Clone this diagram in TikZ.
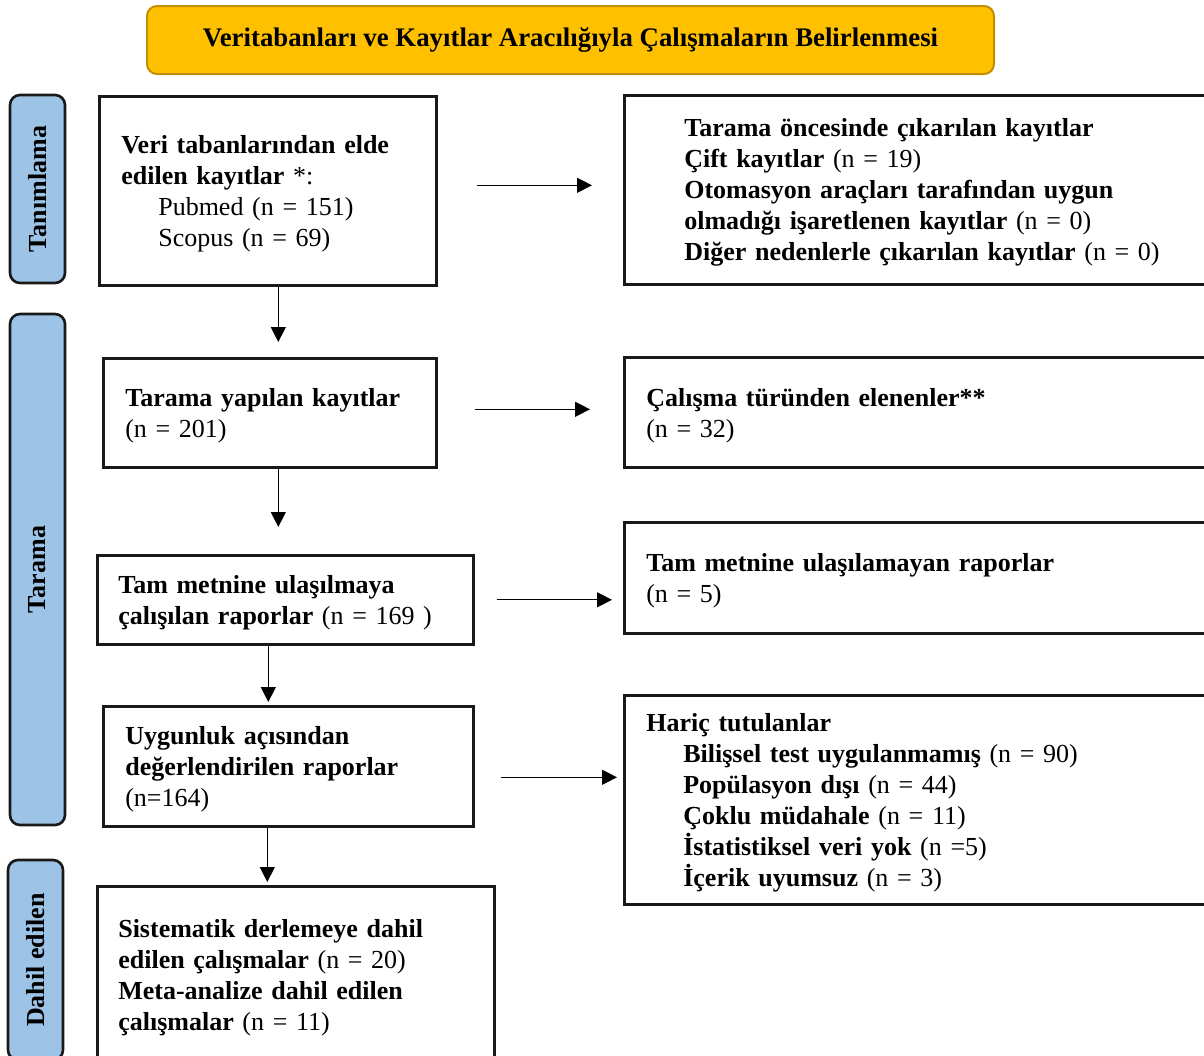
\documentclass[tikz,border=0pt]{standalone}
\usepackage{fontspec}
\setmainfont{Liberation Serif}
\usetikzlibrary{arrows.meta}
\definecolor{gold}{HTML}{FFC000}
\definecolor{golddark}{HTML}{C09000}
\definecolor{sideblue}{HTML}{9DC3E6}
\tikzset{
  txt/.style={font=\fontsize{26}{31}\selectfont},
  flowbox/.style={txt, draw=black!90, line width=2.6pt, anchor=north west, align=left, inner ysep=0pt,
                  execute at begin node={\rule{0pt}{24pt}}},
  sidebar/.style={txt, draw=black!90, line width=2.6pt, rounded corners=10pt, fill=sideblue, rotate=90, inner sep=0pt},
  arr/.style={line width=1.3pt, -{Triangle[length=15pt,width=15pt]}},
}
\newcommand{\myind}{\hspace*{37pt}}
\begin{document}
\begin{tikzpicture}[x=1pt,y=-1pt]
\useasboundingbox (0,0) rectangle (1204,1055);
\clip (0,0) rectangle (1204,1055);

% title
\node[font=\fontsize{26.8}{31}\selectfont\bfseries, minimum width=847pt, minimum height=68pt,
      rounded corners=10pt, fill=gold, draw=golddark, line width=2pt] (title) at (570.5,40)
  {Veritabanları ve Kayıtlar Aracılığıyla Çalışmaların Belirlenmesi};

% side bars
\node[sidebar, minimum width=188pt, minimum height=55pt] (s1) at (37.5,189) {\textbf{Tanımlama}};
\node[sidebar, minimum width=511pt, minimum height=55pt] (s2) at (37.5,569.5) {\textbf{Tarama}};
\node[sidebar, minimum width=200pt, minimum height=55pt] (s3) at (35.5,960) {\textbf{Dahil edilen}};

% left boxes
\node[flowbox, inner xsep=22pt, text width=293pt, minimum height=189pt] (b1) at (98,95)
  {\textbf{Veri tabanlarından elde}\\ \textbf{edilen kayıtlar} *:\\ \myind Pubmed (n = 151)\\ \myind Scopus (n = 69)};
\node[flowbox, inner xsep=22pt, text width=289pt, minimum height=109pt] (b2) at (102,357)
  {\textbf{Tarama yapılan kayıtlar}\\ (n = 201)};
\node[flowbox, inner xsep=21pt, text width=334pt, minimum height=89pt] (b3) at (96,554)
  {\textbf{Tam metnine ulaşılmaya}\\ \textbf{çalışılan raporlar} (n = 169 )};
\node[flowbox, inner xsep=22pt, text width=326pt, minimum height=120pt] (b4) at (102,705)
  {\textbf{Uygunluk açısından}\\ \textbf{değerlendirilen raporlar}\\ (n=164)};
\node[flowbox, inner xsep=21pt, text width=355pt, minimum height=177pt] (b5) at (96,885)
  {\textbf{Sistematik derlemeye dahil}\\ \textbf{edilen çalışmalar} (n = 20)\\ \textbf{Meta-analize dahil edilen}\\ \textbf{çalışmalar} (n = 11)};

% right boxes
\node[flowbox, inner xsep=60pt, text width=517pt, minimum height=189pt] (r1) at (623,94)
  {\textbf{Tarama öncesinde çıkarılan kayıtlar}\\ \textbf{Çift kayıtlar} (n = 19)\\ \textbf{Otomasyon araçları tarafından uygun}\\ \textbf{olmadığı işaretlenen kayıtlar} (n = 0)\\ \textbf{Diğer nedenlerle çıkarılan kayıtlar} (n = 0)};
\node[flowbox, inner xsep=22pt, text width=593pt, minimum height=110pt] (r2) at (623,356)
  {\textbf{Çalışma türünden elenenler**}\\ (n = 32)};
\node[flowbox, inner xsep=22pt, text width=593pt, minimum height=111pt] (r3) at (623,521)
  {\textbf{Tam metnine ulaşılamayan raporlar}\\ (n = 5)};
\node[flowbox, inner xsep=22pt, text width=593pt, minimum height=209pt] (r4) at (623,694)
  {\textbf{Hariç tutulanlar}\\ \myind\textbf{Bilişsel test uygulanmamış} (n = 90)\\ \myind\textbf{Popülasyon dışı} (n = 44)\\ \myind\textbf{Çoklu müdahale} (n = 11)\\ \myind\textbf{İstatistiksel veri yok} (n =5)\\ \myind\textbf{İçerik uyumsuz} (n = 3)};

% vertical arrows
\draw[arr, shorten >=15pt] ([xshift=10.5pt]b1.south) -- ([xshift=10.5pt]b1.south |- b2.north);
\draw[arr, shorten >=27pt] ([xshift=8.5pt]b2.south) -- ([xshift=8.5pt]b2.south |- b3.north);
\draw[arr, shorten >=3pt] ([xshift=-17pt]b3.south) -- ([xshift=-17pt]b3.south |- b4.north);
\draw[arr, shorten >=3pt] ([xshift=-21pt]b4.south) -- ([xshift=-21pt]b4.south |- b5.north);

% horizontal arrows
\draw[arr, shorten <=39pt, shorten >=31pt] ([yshift=5.5pt]b1.east) -- ([yshift=5.5pt]b1.east -| r1.west);
\draw[arr, shorten <=37pt, shorten >=33pt] ([yshift=3.5pt]b2.east) -- ([yshift=3.5pt]b2.east -| r2.west);
\draw[arr, shorten <=22pt, shorten >=11pt] (b3.east) -- (b3.east -| r3.west);
\draw[arr, shorten <=26pt, shorten >=6pt] ([yshift=-11pt]b4.east) -- ([yshift=-11pt]b4.east -| r4.west);
\end{tikzpicture}
\end{document}
